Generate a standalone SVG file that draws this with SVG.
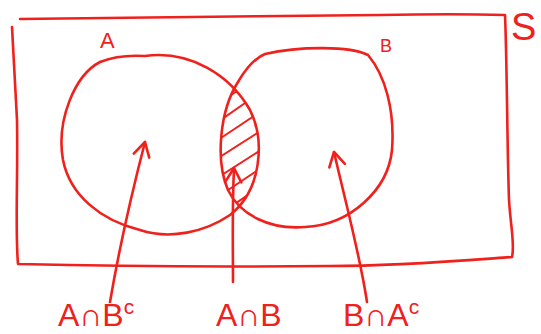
<svg xmlns="http://www.w3.org/2000/svg" width="541" height="334" viewBox="0 0 541 334">
<style>
.s{fill:none;stroke:#f0201c;stroke-width:2.6;stroke-linecap:round;stroke-linejoin:round}
.h{fill:none;stroke:#f0201c;stroke-width:2;stroke-linecap:round}
.t{fill:#f0201c;font-family:"Liberation Sans",Arial,sans-serif}
</style>
<defs>
<marker id="ah" viewBox="0 0 20 20" refX="18" refY="10" markerWidth="20" markerHeight="20" markerUnits="userSpaceOnUse" orient="auto">
<path d="M4,2 L18,10 L4,18" fill="none" stroke="#f0201c" stroke-width="2.6" stroke-linecap="round" stroke-linejoin="round"/>
</marker>
<clipPath id="clipA">
<path d="M145,56 C190,50 230,75 250,110 C265,140 262,190 230,215 C205,232 170,240 140,230 C100,220 70,195 63,160 C56,120 75,75 100,62 C115,56 130,55 145,56"/>
</clipPath>
<clipPath id="clipB">
<path d="M265,54 C300,46 350,46 368,55 C385,75 395,110 392,150 C388,190 350,225 305,227 C270,230 240,215 228,190 C215,160 220,110 238,82 C245,70 255,58 265,54"/>
</clipPath>
</defs>
<g id="universe">
<path class="s" d="M20,19 C120,18 260,16 380,15 C430,14 470,14 505,15 C507,60 507,140 509,200 C511,230 515,245 512,257 C470,260 400,266 330,266 C220,267 100,266 18,264 C15,230 18,180 17,120 C15,80 13,50 12,27"/>
<text class="t" x="511" y="40" font-size="38">S</text>
</g>
<g id="setA">
<path class="s" d="M145,56 C190,50 230,75 250,110 C265,140 262,190 230,215 C205,232 170,240 140,230 C100,220 70,195 63,160 C56,120 75,75 100,62 C115,56 130,55 145,56"/>
<text class="t" x="100" y="48" font-size="22">A</text>
</g>
<g id="setB">
<path class="s" d="M265,54 C300,46 350,46 368,55 C385,75 395,110 392,150 C388,190 350,225 305,227 C270,230 240,215 228,190 C215,160 220,110 238,82 C245,70 255,58 265,54"/>
<text class="t" x="380" y="52" font-size="18">B</text>
</g>
<g id="intersection">
<g clip-path="url(#clipA)"><g clip-path="url(#clipB)">
<path class="h" d="M212,108 L256,78 M212,126 L258,94 M212,144 L260,112 M212,162 L262,130 M214,180 L264,148 M216,198 L264,166 M220,214 L264,184"/>
</g></g>
</g>
<g id="connectors">
<path class="s" d="M110,302 C118,255 130,200 145,142" marker-end="url(#ah)"/>
<path class="s" d="M233,282 C233,245 232,210 234,168" marker-end="url(#ah)"/>
<path class="s" d="M367,302 C360,255 345,200 334,152" marker-end="url(#ah)"/>
</g>
<g id="labels">
<text class="t" x="58" y="326" font-size="32">A∩B<tspan font-size="21" dy="-12">c</tspan></text>
<text class="t" x="216" y="326" font-size="32">A∩B</text>
<text class="t" x="343" y="326" font-size="32">B∩A<tspan font-size="21" dy="-12">c</tspan></text>
</g>
</svg>
